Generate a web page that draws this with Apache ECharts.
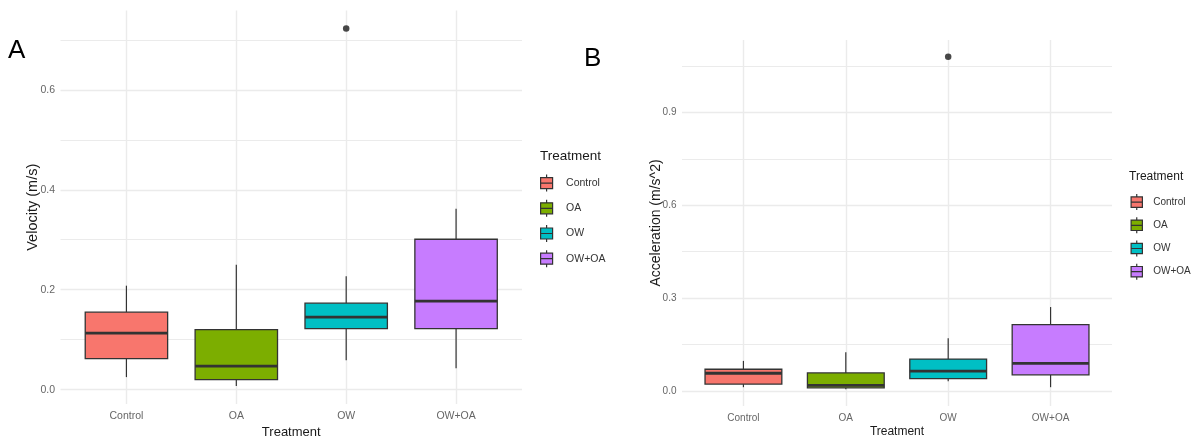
<!DOCTYPE html>
<html>
<head>
<meta charset="utf-8">
<title>Velocity and acceleration by treatment</title>
<script src="https://cdn.jsdelivr.net/npm/echarts@6/dist/echarts.min.js"></script>
<style>
  html, body { margin: 0; padding: 0; background: #fff; }
  #chart { width: 1194px; height: 443px; }
</style>
</head>
<body>
<div id="chart"></div>
<script>
const treatments = ['Control', 'OA', 'OW', 'OW+OA'];

// each row: [lower whisker, Q1, median, Q3, upper whisker]
const velocityBoxes = [
  [0.025, 0.062, 0.113, 0.155, 0.208],
  [0.007, 0.020, 0.047, 0.120, 0.250],
  [0.059, 0.122, 0.145, 0.173, 0.227],
  [0.043, 0.122, 0.177, 0.301, 0.362]
];
// [treatment index, value]
const velocityOutliers = [[2, 0.723]];
const velocityTicks = [0, 0.2, 0.4, 0.6];
const velocityMinorTicks = [0.1, 0.3, 0.5, 0.7];

const accelBoxes = [
  [0.012, 0.022, 0.057, 0.070, 0.097],
  [0.005, 0.010, 0.018, 0.058, 0.125],
  [0.031, 0.040, 0.064, 0.103, 0.170],
  [0.012, 0.052, 0.089, 0.214, 0.271]
];
const accelOutliers = [[2, 1.080]];
const accelTicks = [0, 0.3, 0.6, 0.9];
const accelMinorTicks = [0.15, 0.45, 0.75, 1.05];

const colors = ['#F8766D', '#7CAE00', '#00BFC4', '#C77CFF'];
const gridColor = '#EBEBEB';
const lineColor = '#333333';
const fontFamily = '"Liberation Sans", Arial, Helvetica, sans-serif';
const boxIcon = 'path://M6,0L6,3M0,3L12,3L12,14L0,14ZM0,8.5L12,8.5M6,14L6,17';

const positions = treatments.map((t, i) => i + 1);

// ggplot style 5% padding around the data range
function paddedExtent(boxes, outliers) {
  const vals = boxes.flat().concat(outliers.map(o => o[1]));
  const lo = Math.min(...vals);
  const hi = Math.max(...vals);
  const pad = (hi - lo) * 0.05;
  return [lo - pad, hi + pad];
}

function renderBox(params, api) {
  const x = api.value(0);
  const low = api.coord([x, api.value(1)]);
  const q1 = api.coord([x, api.value(2)]);
  const med = api.coord([x, api.value(3)]);
  const q3 = api.coord([x, api.value(4)]);
  const high = api.coord([x, api.value(5)]);
  const half = api.size([0.375, 0])[0];
  const cx = med[0];
  const whisker = { stroke: lineColor, lineWidth: 1.2 };
  return {
    type: 'group',
    children: [
      { type: 'line', shape: { x1: cx, y1: high[1], x2: cx, y2: q3[1] }, style: whisker },
      { type: 'line', shape: { x1: cx, y1: q1[1], x2: cx, y2: low[1] }, style: whisker },
      {
        type: 'rect',
        shape: { x: cx - half, y: q3[1], width: half * 2, height: q1[1] - q3[1] },
        style: { fill: api.visual('color'), stroke: lineColor, lineWidth: 1.3 }
      },
      {
        type: 'line',
        shape: { x1: cx - half, y1: med[1], x2: cx + half, y2: med[1] },
        style: { stroke: lineColor, lineWidth: 2.8 }
      }
    ]
  };
}

const panels = [
  {
    boxes: velocityBoxes, outliers: velocityOutliers,
    ticks: velocityTicks, minor: velocityMinorTicks,
    yName: 'Velocity (m/s)',
    grid: { left: 60.5, width: 461.5, top: 10.5, height: 393.5, outerBoundsMode: 'none' },
    tickFont: 10.5, xTitleFont: 13, yTitleFont: 14.5,
    xLabelMargin: 6.5, xNameGap: 21.5, yNameGap: 20.5,
    legend: { left: 540, top: 174, itemHeight: 17, itemGap: 7, fontSize: 10.5, pad: 8 },
    legendTitle: { left: 540, top: 149, fontSize: 13.5 }
  },
  {
    boxes: accelBoxes, outliers: accelOutliers,
    ticks: accelTicks, minor: accelMinorTicks,
    yName: 'Acceleration (m/s^2)',
    grid: { left: 682, width: 430, top: 40, height: 366, outerBoundsMode: 'none' },
    tickFont: 10, xTitleFont: 12, yTitleFont: 14,
    xLabelMargin: 7, xNameGap: 20, yNameGap: 18.5,
    legend: { left: 1130.5, top: 193.5, itemHeight: 16, itemGap: 6, fontSize: 10, pad: 5 },
    legendTitle: { left: 1129, top: 170.5, fontSize: 12 }
  }
];

const option = {
  animation: false,
  backgroundColor: '#fff',
  textStyle: { fontFamily },
  title: [
    { text: 'A', left: 8, top: 38, padding: 0, textStyle: { fontSize: 26, fontWeight: 'normal', color: '#000' } },
    { text: 'B', left: 584, top: 46, padding: 0, textStyle: { fontSize: 26, fontWeight: 'normal', color: '#000' } }
  ],
  grid: [],
  xAxis: [],
  yAxis: [],
  legend: [],
  series: []
};

panels.forEach((p, pi) => {
  const [yMin, yMax] = paddedExtent(p.boxes, p.outliers);
  option.grid.push(p.grid);

  option.title.push({
    text: 'Treatment', left: p.legendTitle.left, top: p.legendTitle.top, padding: 0,
    textStyle: { fontSize: p.legendTitle.fontSize, fontWeight: 'normal', color: '#1a1a1a' }
  });

  option.xAxis.push({
    type: 'value', gridIndex: pi, min: 0.4, max: 4.6,
    name: 'Treatment', nameLocation: 'middle', nameGap: p.xNameGap, nameMoveOverlap: false,
    nameTextStyle: { fontSize: p.xTitleFont, color: '#1a1a1a' },
    axisLine: { show: false, onZero: false },
    axisTick: { show: false, customValues: positions },
    axisLabel: {
      customValues: positions,
      formatter: v => treatments[Math.round(v) - 1],
      color: '#666', fontSize: p.tickFont, margin: p.xLabelMargin
    },
    splitLine: { show: true, lineStyle: { color: gridColor, width: 1.4 } }
  });

  option.yAxis.push({
    type: 'value', gridIndex: pi, min: yMin, max: yMax,
    name: p.yName, nameLocation: 'middle', nameRotate: 90, nameGap: p.yNameGap, nameMoveOverlap: false,
    nameTextStyle: { fontSize: p.yTitleFont, color: '#1a1a1a' },
    axisLine: { show: false, onZero: false },
    axisTick: { show: false, customValues: p.ticks },
    axisLabel: {
      customValues: p.ticks,
      formatter: v => v.toFixed(1),
      color: '#666', fontSize: p.tickFont, margin: 5.5
    },
    splitLine: { show: true, lineStyle: { color: gridColor, width: 1.4 } }
  });

  // second axis only for the minor grid lines
  option.yAxis.push({
    type: 'value', gridIndex: pi, min: yMin, max: yMax, position: 'left',
    axisLine: { show: false, onZero: false },
    axisTick: { show: false, customValues: p.minor },
    axisLabel: { show: false },
    splitLine: { show: true, lineStyle: { color: gridColor, width: 1.1 } }
  });

  option.legend.push({
    data: treatments, orient: 'vertical',
    left: p.legend.left, top: p.legend.top, padding: 0,
    itemWidth: 13, itemHeight: p.legend.itemHeight, itemGap: p.legend.itemGap,
    icon: boxIcon, selectedMode: false,
    itemStyle: { borderColor: lineColor, borderWidth: 1.2 },
    textStyle: { fontSize: p.legend.fontSize, color: '#333', padding: [0, 0, 0, p.legend.pad] }
  });

  treatments.forEach((name, i) => {
    option.series.push({
      name, type: 'custom',
      xAxisIndex: pi, yAxisIndex: pi * 2,
      itemStyle: { color: colors[i] },
      encode: { x: 0, y: [1, 2, 3, 4, 5] },
      renderItem: renderBox,
      data: [[positions[i]].concat(p.boxes[i])]
    });
  });

  option.series.push({
    name: 'outliers', type: 'scatter',
    xAxisIndex: pi, yAxisIndex: pi * 2,
    symbolSize: 6.5,
    itemStyle: { color: '#1a1a1a' },
    data: p.outliers.map(o => [positions[o[0]], o[1]])
  });
});

const chart = echarts.init(document.getElementById('chart'));
chart.setOption(option);
window.addEventListener('resize', () => chart.resize());
</script>
</body>
</html>
